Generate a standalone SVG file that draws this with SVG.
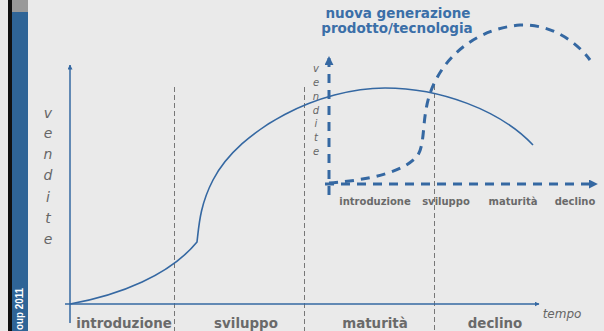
<svg xmlns="http://www.w3.org/2000/svg" width="604" height="331" viewBox="0 0 604 331">
<style>
.ax{stroke:#3568a2;stroke-width:1.5;fill:none}
.curve{stroke:#3568a2;stroke-width:1.6;fill:none}
.dash{stroke:#3568a2;stroke-width:3;fill:none;stroke-dasharray:9 7}
.grid{stroke:#777;stroke-width:1;stroke-dasharray:5 3;fill:none}
.lbl{font-family:"DejaVu Sans",Verdana,sans-serif;font-weight:bold;fill:#6a6a6a;text-anchor:middle}
.vt{font-family:"DejaVu Sans",Verdana,sans-serif;font-style:italic;fill:#666;text-anchor:middle}
.ttl{font-family:"DejaVu Sans",Verdana,sans-serif;font-weight:bold;fill:#3b6fa8;text-anchor:middle;font-size:13.5px}
</style>
<defs>
<marker id="a1" viewBox="0 0 10 10" refX="9" refY="5" markerWidth="5" markerHeight="5" orient="auto" markerUnits="userSpaceOnUse"><path d="M0,0L10,5L0,10Z" fill="#3568a2"/></marker>
<marker id="a2" viewBox="0 0 10 10" refX="9" refY="5" markerWidth="9" markerHeight="9" orient="auto" markerUnits="userSpaceOnUse"><path d="M0,0L10,5L0,10Z" fill="#3568a2"/></marker>
</defs>
<rect x="0" y="0" width="604" height="331" fill="#eaeaea"/>
<g id="sidebar">
<rect x="8" y="0" width="4" height="331" fill="#111"/>
<rect x="12" y="0" width="16" height="331" fill="#2f6496"/>
<rect x="12" y="0" width="16" height="12" fill="#999"/>
<text transform="translate(23,330) rotate(-90)" font-family="'Liberation Sans',Arial,sans-serif" font-weight="bold" font-size="11" fill="#fff" textLength="42" lengthAdjust="spacingAndGlyphs">oup 2011</text>
</g>
<g id="grid">
<line class="grid" x1="174.5" y1="87" x2="174.5" y2="331"/>
<line class="grid" x1="304.5" y1="87" x2="304.5" y2="331"/>
<line class="grid" x1="434.5" y1="85" x2="434.5" y2="331"/>
</g>
<g id="connectors">
<line class="ax" x1="70" y1="323" x2="70" y2="65" marker-end="url(#a1)"/>
<line class="ax" x1="65" y1="304" x2="539" y2="304" marker-end="url(#a1)"/>
<path class="curve" d="M70,304 C120,295 170,275 197,242 C199,225 200,205 213,180 C240,128 320,88 385,88 C440,88 500,110 533,145"/>
<line class="dash" x1="329" y1="195" x2="329" y2="57" marker-end="url(#a2)"/>
<line class="dash" x1="325" y1="184" x2="597" y2="184" marker-end="url(#a2)"/>
<path class="dash" d="M329,183 C370,180 405,172 418,155 C424,145 423,125 426,110 C432,70 465,30 520,25 C550,24 575,40 590,60"/>
</g>
<g id="ylabel">
<text class="vt" font-size="14" x="48" y="118">v</text>
<text class="vt" font-size="14" x="48" y="138">e</text>
<text class="vt" font-size="14" x="48" y="159">n</text>
<text class="vt" font-size="14" x="48" y="180">d</text>
<text class="vt" font-size="14" x="48" y="202">i</text>
<text class="vt" font-size="14" x="48" y="223">t</text>
<text class="vt" font-size="14" x="48" y="244">e</text>
</g>
<g id="xlabels">
<text class="lbl" font-size="13.4" x="124" y="328">introduzione</text>
<text class="lbl" font-size="13.4" x="246" y="328">sviluppo</text>
<text class="lbl" font-size="13.4" x="375" y="328">maturità</text>
<text class="lbl" font-size="13.4" x="495" y="328">declino</text>
<text class="vt" font-size="12" x="562" y="318">tempo</text>
</g>
<g id="inset">
<text class="ttl" x="398" y="18">nuova generazione</text>
<text class="ttl" x="397" y="33">prodotto/tecnologia</text>
<text class="vt" font-size="10" x="316" y="72">v</text>
<text class="vt" font-size="10" x="316" y="86">e</text>
<text class="vt" font-size="10" x="316" y="100">n</text>
<text class="vt" font-size="10" x="316" y="114">d</text>
<text class="vt" font-size="10" x="316" y="127">i</text>
<text class="vt" font-size="10" x="316" y="141">t</text>
<text class="vt" font-size="10" x="316" y="155">e</text>
<text class="lbl" font-size="10" x="375" y="205">introduzione</text>
<text class="lbl" font-size="10" x="446" y="205">sviluppo</text>
<text class="lbl" font-size="10" x="513" y="205">maturità</text>
<text class="lbl" font-size="10" x="575" y="205">declino</text>
</g>
</svg>
